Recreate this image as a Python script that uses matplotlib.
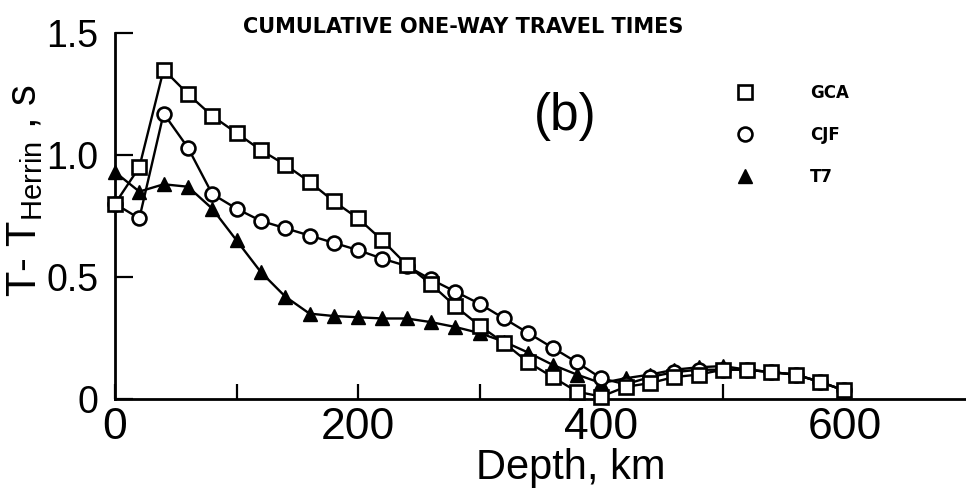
import matplotlib.pyplot as plt
import numpy as np
from matplotlib.ticker import FixedLocator, FuncFormatter

plt.rcParams['font.family'] = ['Liberation Sans', 'DejaVu Sans']
plt.rcParams['mathtext.fontset'] = 'custom'
plt.rcParams['mathtext.rm'] = 'Liberation Sans'

depth = list(range(0, 601, 20))  # km
gca = [0.80, 0.95, 1.35, 1.25, 1.16, 1.09, 1.02, 0.96, 0.89, 0.81,
       0.74, 0.65, 0.55, 0.47, 0.38, 0.30, 0.23, 0.15, 0.09, 0.03,
       0.01, 0.05, 0.065, 0.09, 0.10, 0.12, 0.12, 0.11, 0.10, 0.07,
       0.035]
cjf = [0.80, 0.74, 1.17, 1.03, 0.84, 0.78, 0.73, 0.70, 0.67, 0.64,
       0.61, 0.575, 0.545, 0.49, 0.44, 0.39, 0.33, 0.27, 0.21, 0.15,
       0.085, 0.06, 0.09, 0.11, 0.12, 0.12, 0.12, 0.11, 0.10, 0.07,
       0.035]
t7 = [0.93, 0.85, 0.88, 0.87, 0.78, 0.65, 0.52, 0.42, 0.35, 0.34,
      0.335, 0.33, 0.33, 0.315, 0.295, 0.27, 0.235, 0.19, 0.14, 0.10,
      0.065, 0.085, 0.10, 0.12, 0.13, 0.135, 0.12, 0.11, 0.10, 0.07,
      0.035]
names = ['GCA', 'CJF', 'T7']

W, H = 966, 499
fig = plt.figure(figsize=(W / 100, H / 100), dpi=100)
ax = fig.add_axes([115 / W, 100 / H, (W - 115) / W, 366 / H])

ax.plot(depth, t7, '-', color='black', lw=1.7, marker='^', ms=9.5,
        mfc='black', mec='black', clip_on=False, label=names[2], zorder=3)
ax.plot(depth, cjf, '-', color='black', lw=1.7, marker='o', ms=10,
        mfc='white', mec='black', mew=1.9, clip_on=False, label=names[1], zorder=4)
ax.plot(depth, gca, '-', color='black', lw=1.7, marker='s', ms=9.5,
        mfc='white', mec='black', mew=1.9, clip_on=False, label=names[0], zorder=5)

ax.set_xlim(0, 700)
ax.set_ylim(0, 1.5)
for s in ['top', 'right']:
    ax.spines[s].set_visible(False)
for s in ['left', 'bottom']:
    ax.spines[s].set_linewidth(2)

ax.xaxis.set_major_locator(FixedLocator([0, 100, 200, 300, 400, 500, 600]))
ax.xaxis.set_major_formatter(FuncFormatter(lambda v, p: '%d' % v if v % 200 == 0 else ''))
ax.yaxis.set_major_locator(FixedLocator([0, 0.5, 1.0, 1.5]))
ax.yaxis.set_major_formatter(FuncFormatter(lambda v, p: '0' if v == 0 else '%.1f' % v))
ax.tick_params(axis='x', direction='in', length=11, width=1.6, labelsize=32, pad=6)
ax.tick_params(axis='y', direction='in', length=13, width=1.6, labelsize=27, pad=12)

ax.set_xlabel('Depth, km', fontsize=30)
ax.xaxis.set_label_coords(0.536, -0.135)
ax.xaxis.label.set_va('top')
ax.set_ylabel(r'T- T$_{\mathrm{Herrin}}$ , s', fontsize=30)
ax.yaxis.set_label_coords(-0.082, 0.57)

ax.text(0.529, 0.773, '(b)', transform=ax.transAxes, fontsize=37, ha='center', va='center')

# legend: markers only, no line segments
handles, labels = ax.get_legend_handles_labels()
order = [2, 1, 0]
leg = ax.legend([handles[i] for i in order], [labels[i] for i in order],
                loc='upper left', bbox_to_anchor=(730 / W, 1 - 69 / H),
                bbox_transform=fig.transFigure, frameon=False,
                handlelength=0, handletextpad=3.9, labelspacing=1.45,
                prop={'family': 'DejaVu Sans', 'weight': 'bold', 'size': 12})
for h in leg.legend_handles:
    h.set_linestyle('None')

fig.text(463 / W, 1 - 27 / H, 'CUMULATIVE ONE-WAY TRAVEL TIMES', ha='center', va='center',
         fontsize=15, fontweight='bold', family='DejaVu Sans')

fig.savefig('out.png', dpi=100)
